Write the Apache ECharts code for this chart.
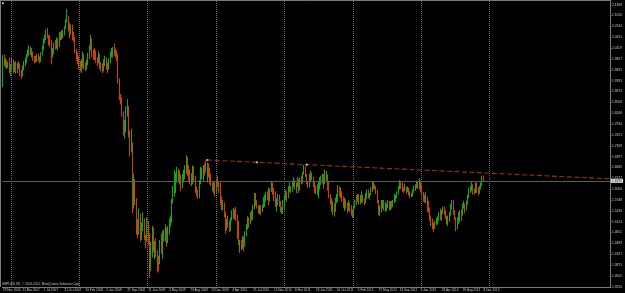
<!DOCTYPE html>
<html><head><meta charset="utf-8">
<script src="https://cdn.jsdelivr.net/npm/echarts@6/dist/echarts.min.js"></script>
<style>html,body{margin:0;padding:0;background:#000;}#c{width:625px;height:293px;}</style>
</head><body><div id="c"></div>
<script>
// GBPUSD weekly candles, week 0 = 29 Nov 2006
const firstOpen = 1.905;
const closes = [
1.975,1.966,1.972,1.962,1.968,1.946,1.958,1.975,1.950,1.966,
1.948,1.965,1.962,1.940,1.935,1.954,1.970,1.976,1.990,1.998,
2.003,2.008,1.993,1.985,1.981,1.975,1.989,1.980,1.975,1.995,
2.015,2.034,2.040,2.060,2.045,2.035,2.025,1.998,2.003,2.022,
2.020,2.036,2.018,2.053,2.049,2.050,2.058,2.070,2.090,2.102,
2.070,2.062,2.070,2.050,2.042,2.005,1.985,1.980,1.962,1.958,
1.968,1.992,1.960,1.956,1.970,1.990,2.010,2.040,1.995,1.992,
1.990,1.980,1.975,1.990,1.965,1.958,1.950,1.975,1.978,1.960,
1.958,1.975,1.995,1.999,2.005,2.000,1.998,1.990,1.920,1.870,
1.865,1.825,1.775,1.790,1.825,1.835,1.770,1.725,1.730,1.590,
1.620,1.575,1.490,1.483,1.535,1.465,1.490,1.520,1.470,1.460,
1.495,1.455,1.370,1.445,1.465,1.440,1.445,1.425,1.405,1.395,
1.435,1.430,1.475,1.478,1.490,1.465,1.480,1.515,1.517,1.570,
1.610,1.615,1.645,1.648,1.640,1.642,1.620,1.633,1.656,1.671,
1.695,1.653,1.646,1.628,1.642,1.668,1.636,1.605,1.600,1.592,
1.625,1.645,1.650,1.670,1.665,1.660,1.668,1.665,1.630,1.620,
1.605,1.615,1.612,1.628,1.620,1.602,1.580,1.560,1.565,1.537,
1.500,1.505,1.500,1.493,1.518,1.535,1.545,1.538,1.525,1.480,
1.448,1.450,1.448,1.462,1.450,1.480,1.498,1.520,1.510,1.528,
1.525,1.552,1.586,1.560,1.559,1.542,1.546,1.543,1.557,1.574,
1.585,1.591,1.580,1.573,1.600,1.610,1.597,1.593,1.560,1.566,
1.578,1.570,1.545,1.551,1.555,1.583,1.593,1.585,1.605,1.610,
1.602,1.617,1.630,1.610,1.615,1.630,1.608,1.635,1.633,1.650,
1.670,1.650,1.630,1.616,1.631,1.643,1.640,1.624,1.607,1.604,
1.612,1.615,1.623,1.638,1.641,1.632,1.637,1.645,1.628,1.585,
1.566,1.543,1.553,1.545,1.573,1.576,1.612,1.605,1.588,1.582,
1.560,1.570,1.560,1.550,1.556,1.552,1.539,1.530,1.552,1.570,
1.580,1.576,1.575,1.585,1.588,1.572,1.567,1.588,1.600,1.582,
1.590,1.600,1.626,1.617,1.613,1.597,1.566,1.540,1.550,1.553,
1.566,1.553,1.556,1.560,1.568,1.552,1.566,1.562,1.569,1.581,
1.584,1.596,1.613,1.622,1.614,1.606,1.602,1.608,1.602,1.608,
1.597,1.585,1.592,1.600,1.610,1.615,1.623,1.618,1.625,1.610,
1.595,1.585,1.577,1.580,1.560,1.545,1.522,1.518,1.505,1.495,
1.510,1.520,1.525,1.535,1.525,1.540,1.550,1.540,1.525,1.515,
1.519,1.533,1.558,1.568,1.537,1.522,1.505,1.510,1.533,1.537,
1.534,1.560,1.565,1.555,1.565,1.585,1.600,1.605,1.619,1.600,
1.598,1.618,1.605,1.598,1.610,1.621,1.640,1.6295
];
const highs = [
1.992,1.994,1.983,1.978,1.972,1.984,1.966,1.985,1.980,1.972,
1.975,1.970,1.975,1.968,1.950,1.962,1.975,1.985,1.995,2.008,
2.020,2.016,2.012,2.002,1.990,1.990,1.996,1.996,1.988,2.000,
2.020,2.040,2.050,2.066,2.070,2.050,2.048,2.035,2.012,2.028,
2.035,2.043,2.040,2.058,2.060,2.062,2.065,2.075,2.095,2.124,
2.105,2.085,2.080,2.080,2.058,2.045,2.010,2.000,1.990,1.975,
1.980,2.002,1.995,1.970,1.978,1.998,2.020,2.050,2.040,2.008,
2.012,2.005,1.985,2.002,1.995,1.972,1.968,1.980,1.990,1.985,
1.970,1.982,2.002,2.012,2.015,2.025,2.010,2.005,1.995,1.925,
1.880,1.870,1.830,1.805,1.845,1.865,1.845,1.775,1.780,1.740,
1.650,1.635,1.580,1.520,1.550,1.535,1.510,1.540,1.522,1.475,
1.525,1.515,1.480,1.455,1.500,1.495,1.457,1.465,1.430,1.415,
1.460,1.478,1.485,1.490,1.505,1.495,1.500,1.522,1.530,1.578,
1.615,1.660,1.652,1.670,1.665,1.660,1.648,1.650,1.662,1.675,
1.704,1.698,1.675,1.662,1.652,1.674,1.672,1.645,1.613,1.604,
1.632,1.670,1.668,1.675,1.680,1.688,1.683,1.680,1.668,1.650,
1.625,1.630,1.625,1.635,1.645,1.630,1.625,1.585,1.575,1.568,
1.540,1.520,1.530,1.515,1.524,1.545,1.552,1.548,1.555,1.532,
1.515,1.460,1.460,1.472,1.470,1.485,1.505,1.528,1.525,1.540,
1.545,1.560,1.595,1.595,1.575,1.560,1.560,1.560,1.562,1.584,
1.590,1.598,1.600,1.611,1.608,1.630,1.625,1.610,1.600,1.580,
1.592,1.590,1.572,1.555,1.575,1.590,1.605,1.600,1.615,1.625,
1.615,1.630,1.640,1.632,1.624,1.640,1.635,1.640,1.645,1.655,
1.676,1.672,1.650,1.630,1.650,1.660,1.654,1.642,1.630,1.616,
1.620,1.630,1.640,1.645,1.650,1.650,1.662,1.658,1.648,1.630,
1.592,1.580,1.572,1.565,1.582,1.592,1.618,1.614,1.611,1.600,
1.585,1.582,1.576,1.567,1.574,1.568,1.560,1.548,1.560,1.575,
1.590,1.592,1.592,1.589,1.600,1.590,1.580,1.595,1.605,1.605,
1.595,1.612,1.628,1.630,1.620,1.615,1.603,1.575,1.560,1.575,
1.575,1.575,1.570,1.565,1.575,1.572,1.572,1.572,1.575,1.592,
1.590,1.600,1.615,1.632,1.630,1.625,1.612,1.622,1.612,1.614,
1.610,1.600,1.596,1.605,1.615,1.620,1.630,1.630,1.637,1.630,
1.620,1.598,1.590,1.598,1.585,1.572,1.553,1.530,1.522,1.510,
1.515,1.523,1.528,1.540,1.550,1.545,1.556,1.556,1.545,1.530,
1.530,1.540,1.563,1.575,1.575,1.545,1.525,1.525,1.540,1.545,
1.548,1.565,1.572,1.565,1.573,1.590,1.610,1.615,1.626,1.620,
1.608,1.625,1.625,1.612,1.615,1.625,1.645,1.645
];
const lows = [
1.900,1.960,1.955,1.952,1.955,1.940,1.932,1.950,1.940,1.943,
1.938,1.940,1.952,1.932,1.924,1.930,1.948,1.960,1.968,1.985,
1.990,1.992,1.985,1.975,1.968,1.970,1.972,1.974,1.968,1.972,
1.990,2.008,2.025,2.035,2.040,2.020,2.015,1.965,1.985,1.995,
2.008,2.010,2.005,2.015,2.035,2.036,2.040,2.048,2.068,2.085,
2.060,2.040,2.050,2.035,2.030,1.998,1.975,1.965,1.950,1.945,
1.940,1.955,1.950,1.945,1.950,1.962,1.980,2.005,1.985,1.978,
1.978,1.970,1.960,1.968,1.952,1.945,1.940,1.945,1.960,1.950,
1.940,1.950,1.968,1.985,1.985,1.990,1.985,1.975,1.910,1.862,
1.850,1.815,1.760,1.752,1.770,1.815,1.755,1.700,1.712,1.536,
1.550,1.560,1.475,1.465,1.475,1.455,1.460,1.485,1.460,1.435,
1.455,1.445,1.350,1.370,1.410,1.425,1.405,1.410,1.366,1.370,
1.390,1.420,1.405,1.455,1.455,1.440,1.450,1.475,1.498,1.510,
1.565,1.585,1.595,1.625,1.625,1.620,1.600,1.608,1.625,1.635,
1.650,1.644,1.630,1.620,1.615,1.620,1.625,1.595,1.585,1.578,
1.580,1.620,1.635,1.630,1.645,1.655,1.625,1.640,1.620,1.615,
1.600,1.595,1.585,1.595,1.612,1.595,1.560,1.545,1.545,1.525,
1.478,1.487,1.495,1.483,1.485,1.515,1.522,1.518,1.515,1.463,
1.445,1.423,1.431,1.434,1.428,1.440,1.470,1.490,1.495,1.505,
1.515,1.518,1.548,1.558,1.550,1.535,1.535,1.530,1.540,1.552,
1.555,1.570,1.574,1.560,1.570,1.598,1.590,1.572,1.555,1.542,
1.560,1.555,1.540,1.535,1.535,1.548,1.575,1.570,1.580,1.598,
1.595,1.598,1.612,1.605,1.594,1.612,1.595,1.602,1.620,1.622,
1.648,1.640,1.620,1.610,1.612,1.625,1.632,1.612,1.595,1.591,
1.590,1.580,1.605,1.618,1.622,1.607,1.620,1.626,1.602,1.580,
1.562,1.540,1.532,1.527,1.540,1.565,1.570,1.585,1.580,1.570,
1.553,1.543,1.550,1.538,1.544,1.540,1.530,1.523,1.525,1.550,
1.560,1.570,1.562,1.562,1.568,1.566,1.560,1.565,1.578,1.580,
1.576,1.588,1.598,1.605,1.605,1.592,1.565,1.531,1.528,1.539,
1.550,1.544,1.540,1.543,1.552,1.545,1.545,1.550,1.554,1.566,
1.570,1.580,1.590,1.605,1.606,1.598,1.595,1.600,1.593,1.598,
1.588,1.580,1.583,1.584,1.596,1.601,1.608,1.608,1.605,1.598,
1.590,1.570,1.567,1.565,1.540,1.538,1.515,1.500,1.490,1.483,
1.492,1.503,1.505,1.515,1.518,1.515,1.535,1.532,1.520,1.505,
1.500,1.512,1.530,1.548,1.532,1.518,1.485,1.490,1.505,1.512,
1.515,1.530,1.550,1.537,1.545,1.561,1.580,1.595,1.600,1.590,
1.590,1.595,1.595,1.588,1.593,1.605,1.615,1.627
];
const tickLabels = ['29 Nov 2006','11 Mar 2007','1 Jul 2007','21 Oct 2007','10 Feb 2008','1 Jun 2008','21 Sep 2008','11 Jan 2009','3 May 2009','23 Aug 2009','13 Dec 2009','4 Apr 2010','25 Jul 2010','14 Nov 2010','6 Mar 2011','26 Jun 2011','16 Oct 2011','5 Feb 2012','27 May 2012','16 Sep 2012','6 Jan 2013','28 Apr 2013','18 Aug 2013','8 Dec 2013'];
const tickIndex = [0,15,31,47,63,79,95,111,127,143,159,175,191,207,223,239,255,271,287,303,319,335,351,367];
const priceTicks = [2.1368,2.1056,2.0744,2.0431,2.0119,1.9807,1.9495,1.9183,1.8870,1.8558,1.8246,1.7934,1.7621,1.7309,1.6997,1.6685,1.6372,1.6060,1.5748,1.5436,1.5124,1.4811,1.4499,1.4187,1.3875,1.3562,1.3250];
const gridIndex = [7,59,111,163,215,268,320,372];
const bidPrice = 1.6295;
const trendPoints = [[156,1.6899],[463,1.6358]];
const trendMarks = [[156,1.6899],[194,1.6832],[232,1.6765]];
const slotCount = 464;
const copyright = 'GBPUSD,W1, \u00a9 2001-2011, MetaQuotes Software Corp.';

const categories = Array.from({length: slotCount}, (_, i) => String(i));
const candles = closes.map((c, i) => [i === 0 ? firstOpen : closes[i - 1], c, lows[i], highs[i]]);
const labelAt = {};
tickIndex.forEach((t, k) => { labelAt[t] = tickLabels[k]; });
const isTick = (i) => labelAt[i] !== undefined;
const gridSet = new Set(gridIndex);

const FONT = 'Liberation Sans';
const chart = echarts.init(document.getElementById('c'), null, {renderer: 'canvas'});
chart.setOption({
  backgroundColor: '#000',
  animation: false,
  grid: {left: 1.2, right: 14, top: 1, bottom: 6},
  xAxis: {
    type: 'category', data: categories, boundaryGap: true,
    axisLine: {show: true, lineStyle: {color: '#7a7a7a', width: 1}},
    axisTick: {show: true, alignWithLabel: true, interval: (i) => isTick(i), length: 1.2, lineStyle: {color: '#7a7a7a'}},
    axisLabel: {show: true, interval: (i) => isTick(i), formatter: (v, i) => labelAt[i] || '', align: 'left', margin: 1.5, color: '#c4c4c4', fontSize: 3.1, fontFamily: FONT},
    splitLine: {show: true, interval: (i) => gridSet.has(i), lineStyle: {color: '#6a6a6a', width: 1, type: [1, 1]}}
  },
  yAxis: {
    type: 'value', position: 'right', min: 1.3245, max: 2.1475,
    axisLine: {show: true, lineStyle: {color: '#7a7a7a'}},
    axisTick: {show: true, customValues: priceTicks, length: 1.5, lineStyle: {color: '#7a7a7a'}},
    axisLabel: {show: true, customValues: priceTicks, formatter: (v) => Number(v).toFixed(4), margin: 2, color: '#c4c4c4', fontSize: 3.3, fontFamily: FONT},
    splitLine: {show: false}
  },
  series: [
    {
      type: 'candlestick', data: candles, barWidth: 1,
      itemStyle: {color: '#1fd41f', color0: '#f04800', borderColor: '#14a814', borderColor0: '#d04000', borderWidth: 1},
      emphasis: {disabled: true},
      markLine: {
        silent: true, symbol: ['none', 'none'], animation: false,
        lineStyle: {color: '#5c5c5c', type: 'solid', width: 1, opacity: 1},
        emphasis: {disabled: true},
        data: [{
          yAxis: bidPrice,
          lineStyle: {color: '#5c5c5c', type: 'solid', width: 1},
          label: {show: true, position: 'end', formatter: bidPrice.toFixed(4), color: '#000', backgroundColor: '#e6e6e6', fontSize: 3.3, fontFamily: FONT, padding: [0.6, 1, 0.4, 1], distance: 1}
        }]
      }
    },
    {
      type: 'line', data: trendPoints, symbol: 'none', z: 5, silent: true,
      lineStyle: {color: '#9a300a', width: 1.1, type: [5, 2.5]}
    },
    {
      type: 'scatter', data: trendMarks, symbol: 'rect', symbolSize: 2, z: 6, silent: true,
      itemStyle: {color: '#ffcbbb'}
    }
  ],
  graphic: [
    {type: 'line', silent: true, shape: {x1: 0, y1: 0.5, x2: 611, y2: 0.5}, style: {stroke: '#7a7a7a', lineWidth: 1}},
    {type: 'line', silent: true, shape: {x1: 0.5, y1: 0, x2: 0.5, y2: 287}, style: {stroke: '#7a7a7a', lineWidth: 1}},
    {type: 'rect', silent: true, shape: {x: 2, y: 2.5, width: 2, height: 1.2}, style: {fill: '#ffffff'}},
    {type: 'text', silent: true, left: 2, top: 282.2, style: {text: copyright, fill: '#c0c0c0', fontSize: 3.1, fontFamily: FONT}}
  ]
});
</script>
</body></html>
